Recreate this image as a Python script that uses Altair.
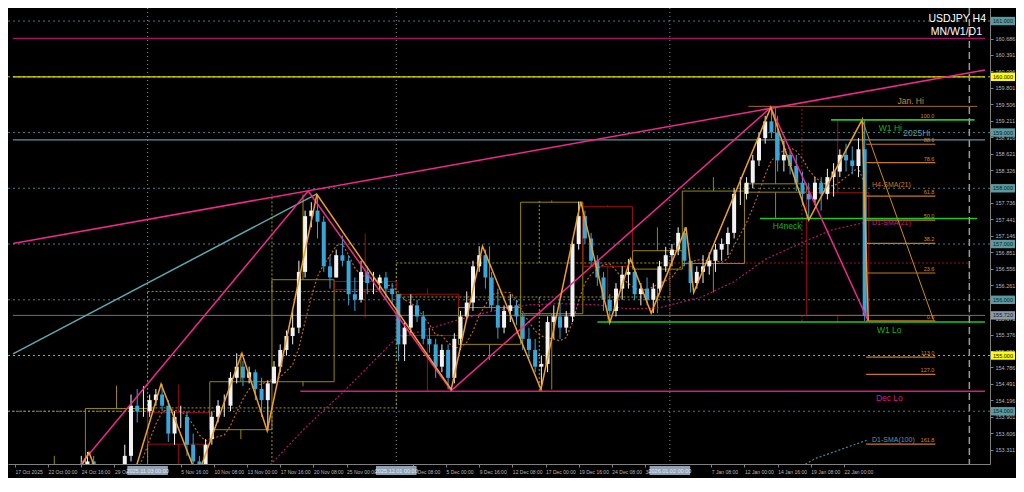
import json
import altair as alt
import pandas as pd

# ------------------------------------------------------------------ values
symbol_text = "USDJPY H4"
periods_text = "MN/W1/D1"

# candles: each candle covers 3 H4 bars, first one starts at bar 28 (24 Oct 2025 00:00)
candle_first_bar = 28
bars_per_candle = 3
c_open = [152.6, 152.8, 152.9, 153.1, 152.7, 152.2, 152.1, 152.3, 152.7, 153.2,
          154.1, 154.0, 154.0, 154.2, 154.3, 154.1, 153.6, 153.9, 153.9, 153.4,
          153.1, 153.0, 153.5, 153.9, 154.1, 154.1, 154.6, 154.8, 154.6, 154.7,
          154.4, 154.2, 154.5, 154.8, 155.1, 155.35, 155.5, 156.5, 157.5, 157.6,
          157.4, 156.6, 156.4, 156.8, 156.7, 156.1, 156.0, 156.5, 156.3, 156.3,
          156.4, 156.2, 156.1, 155.2, 155.5, 155.9, 155.7, 155.3, 155.2, 154.8,
          155.1, 154.6, 155.3, 155.7, 155.95, 156.6, 156.8, 156.4, 155.9, 155.5,
          155.8, 155.9, 155.7, 155.3, 155.1, 154.8, 154.85, 155.6, 155.7, 155.5,
          155.7, 157.0, 157.5, 157.1, 156.7, 156.4, 156.0, 155.8, 156.2, 156.45,
          156.5, 156.1, 156.2, 156.0, 156.2, 156.6, 156.8, 156.9, 157.2, 156.7,
          156.3, 156.5, 156.6, 156.7, 156.9, 157.0, 157.2, 157.9, 157.9, 158.1,
          158.5, 158.9, 159.2, 159.0, 158.5, 158.6, 158.4, 158.1, 157.9, 157.8,
          158.1, 157.9, 158.2, 158.3, 158.6, 158.5, 158.4, 158.7]
c_high = [152.9, 153.2, 153.27, 153.2, 152.8, 152.4, 152.5, 152.8, 153.4, 154.3,
          154.4, 154.45, 154.3, 154.4, 154.49, 154.2, 154.0, 154.1, 154.0, 153.6,
          153.2, 153.5, 154.0, 154.2, 154.3, 154.7, 155.04, 154.9, 154.8, 154.75,
          154.6, 154.55, 154.9, 155.2, 155.45, 155.8, 156.7, 157.6, 157.75, 157.89,
          157.5, 156.8, 156.9, 157.15, 156.8, 156.4, 156.7, 156.6, 156.5, 156.45,
          156.5, 156.3, 156.1, 155.6, 156.1, 156.0, 155.8, 155.5, 155.3, 155.2,
          155.2, 155.4, 155.8, 156.15, 156.7, 156.96, 156.9, 156.5, 156.2, 155.9,
          156.1, 156.0, 155.75, 155.5, 155.3, 155.0, 155.7, 155.9, 155.95, 155.8,
          157.1, 157.76, 157.6, 157.2, 156.8, 156.5, 156.1, 156.3, 156.6, 156.73,
          156.55, 156.3, 156.4, 156.3, 156.7, 156.95, 157.0, 157.3, 157.3, 156.7,
          156.6, 156.8, 156.85, 157.0, 157.1, 157.3, 158.0, 158.2, 158.2, 158.6,
          159.0, 159.3, 159.45, 159.3, 158.85, 158.7, 158.6, 158.3, 158.1, 158.2,
          158.2, 158.35, 158.45, 158.7, 158.8, 158.75, 158.9, 159.23]
c_low = [152.5, 152.7, 152.85, 152.6, 152.0, 151.9, 151.95, 152.1, 152.6, 153.1,
         153.8, 153.9, 153.9, 154.1, 154.0, 153.45, 153.4, 153.7, 153.2, 153.0,
         152.82, 152.9, 153.4, 153.8, 153.9, 154.0, 154.5, 154.45, 154.5, 154.2,
         153.9, 153.65, 154.5, 154.7, 155.0, 155.2, 155.4, 156.4, 157.3, 157.1,
         156.5, 156.2, 156.4, 156.6, 155.9, 155.8, 155.95, 156.1, 156.1, 156.15,
         156.0, 155.9, 154.9, 154.9, 155.4, 155.6, 155.2, 155.05, 154.6, 154.7,
         154.39, 154.5, 155.1, 155.65, 155.8, 156.5, 156.2, 155.8, 155.3, 155.4,
         155.6, 155.55, 155.1, 154.95, 154.7, 154.39, 154.7, 155.3, 155.3, 155.4,
         155.6, 156.9, 157.0, 156.6, 156.25, 155.8, 155.59, 155.7, 156.0, 156.2,
         156.0, 155.9, 155.9, 155.76, 156.1, 156.5, 156.6, 156.8, 156.6, 156.13,
         156.2, 156.3, 156.45, 156.5, 156.7, 156.8, 157.1, 157.7, 157.8, 158.0,
         158.4, 158.8, 158.9, 158.3, 158.3, 158.25, 157.95, 157.7, 157.43, 157.7,
         157.6, 157.8, 157.85, 158.2, 158.3, 158.25, 158.2, 155.62]
c_close = [152.8, 152.9, 153.1, 152.7, 152.2, 152.1, 152.3, 152.6, 153.2, 154.1,
           154.0, 154.0, 154.2, 154.3, 154.1, 153.6, 153.9, 153.9, 153.4, 153.1,
           153.0, 153.4, 153.9, 154.1, 154.1, 154.6, 154.8, 154.6, 154.7, 154.4,
           154.2, 154.5, 154.8, 155.1, 155.35, 155.5, 156.5, 157.5, 157.6, 157.4,
           156.6, 156.4, 156.8, 156.7, 156.1, 156.0, 156.5, 156.3, 156.3, 156.4,
           156.2, 156.1, 155.2, 155.5, 155.9, 155.7, 155.3, 155.2, 154.8, 155.1,
           154.6, 155.3, 155.7, 155.95, 156.6, 156.8, 156.4, 155.9, 155.5, 155.8,
           155.9, 155.7, 155.3, 155.1, 154.8, 154.85, 155.6, 155.7, 155.5, 155.7,
           157.0, 157.5, 157.1, 156.7, 156.4, 156.0, 155.8, 156.2, 156.45, 156.5,
           156.1, 156.2, 156.0, 156.2, 156.6, 156.8, 156.9, 157.2, 156.7, 156.3,
           156.5, 156.6, 156.7, 156.9, 157.0, 157.2, 157.9, 157.9, 158.1, 158.5,
           158.9, 159.2, 159.0, 158.5, 158.6, 158.4, 158.1, 157.9, 157.8, 158.1,
           157.9, 158.2, 158.3, 158.6, 158.5, 158.4, 158.7, 155.72]

# time axis (H4 bar index -> label); labels hidden under the month boxes are left out
time_tick_bars = [0, 16, 32, 48, 80, 96, 112, 128, 144, 160, 192,
                  208, 224, 240, 256, 272, 288, 304, 336, 352, 368, 384, 400]
time_tick_labels = ["17 Oct 2025", "22 Oct 00:00", "24 Oct 16:00", "29 Oct 08:00",
                    "5 Nov 16:00", "10 Nov 08:00", "13 Nov 00:00",
                    "17 Nov 16:00", "20 Nov 08:00", "25 Nov 00:00",
                    "2 Dec 08:00", "5 Dec 00:00", "9 Dec 16:00", "12 Dec 08:00",
                    "17 Dec 00:00", "19 Dec 16:00", "24 Dec 08:00", "30 Dec 00:00",
                    "7 Jan 08:00", "12 Jan 00:00", "14 Jan 16:00",
                    "19 Jan 08:00", "22 Jan 00:00"]
month_start_bars = [64, 184, 316]
month_start_labels = ["2025.11.03 00:00", "2025.12.01 00:00", "2026.01.02 00:00"]
shift_line_bar = 460.5

# price axis (labels hidden under the round-number boxes are left out)
price_ticks = [160.686, 160.391, 160.096, 159.801, 159.506, 159.211,
               158.916, 158.621, 158.326, 157.736, 157.441, 157.146,
               156.851, 156.556, 156.261, 155.671, 155.376, 155.081,
               154.786, 154.491, 154.196, 153.901, 153.606, 153.311]
round_levels = [161.0, 160.0, 159.0, 158.0, 157.0, 156.0, 155.0, 154.0]
current_price = 155.72

# weekly candles (boxes)
wk_start = [4, 34, 64, 94, 124, 154, 184, 214, 244, 274, 298, 322, 352, 382]
wk_end = [34, 64, 94, 124, 154, 184, 214, 244, 274, 298, 322, 352, 382, 412]
wk_open = [150.6, 152.9, 153.98, 153.67, 154.53, 156.33, 156.1, 155.2, 155.75,
           157.67, 156.55, 156.65, 157.93, 157.92]
wk_close = [152.9, 154.05, 153.41, 154.53, 156.36, 156.18, 155.36, 155.86, 157.75,
            156.6, 156.88, 157.95, 158.08, 155.72]
wk_high = [153.2, 154.46, 154.48, 155.04, 157.89, 157.19, 156.2, 156.96, 157.78,
           157.7, 157.3, 158.2, 159.45, 159.23]
wk_low = [150.5, 151.9, 152.8, 153.5, 154.45, 155.67, 154.35, 154.92, 154.39,
          155.59, 155.76, 156.13, 157.47, 155.6]

# monthly candles (dotted boxes)
mo_start = [-40, 64, 184, 316]
mo_end = [64, 184, 316, 460.5]
mo_wick_bar = [-10, 124, 253, 379.7]
mo_open = [147.9, 154.06, 156.05, 156.66]
mo_close = [154.0, 156.15, 156.66, 155.72]
mo_high = [154.45, 157.89, 157.78, 159.45]
mo_low = [146.6, 152.8, 154.35, 155.6]

# named horizontal levels
level_names = ["MN line", "160 line", "2025Hi", "Jan. Hi", "W1 Hi", "H4neck",
               "Current", "W1 Lo", "Dec Lo"]
level_prices = [160.69, 160.0, 158.87, 159.47, 159.23, 157.46, 155.72, 155.60, 154.36]
level_from = [-1, -1, -1, 353.9, 393.8, 359.5, -1, 281, 137.7]
level_to = [468.05, 468.05, 468.05, 464.3, 462.9, 464.3, 468.05, 468.05, 468.05]

# zigzags
orange_zz_bar = [28, 35.7, 50, 70.5, 88, 109.5, 121.7, 145.7, 210.5, 225.6, 253.8,
                 273, 287, 297, 307, 323.8, 327.5, 364.7, 383, 408.8, 411.7]
orange_zz_price = [152.75, 153.26, 151.95, 154.49, 152.82, 155.04, 153.65, 157.89,
                   154.39, 156.96, 154.39, 157.76, 155.59, 156.73, 155.76, 157.30,
                   156.13, 159.45, 157.43, 159.23, 155.62]
pink_zz_bar = [25, 141.5, 210.5, 364.7, 411.7]
pink_zz_price = [152.75, 157.95, 154.37, 159.45, 155.62]

# trend lines: (bar0, price0, bar1, price1)
pink_trend = [-0.94, 157.01, 468.05, 160.12]
teal_trend = [-0.94, 155.03, 145.7, 157.90]
fib_ray = [408.8, 159.23, 443.2, 155.64]

# fibonacci levels
fib_labels = ["100.0", "88.6", "78.6", "61.8", "50.0", "38.2", "23.6", "0.0",
              "113.0", "127.0", "161.8"]
fib_prices = [159.23, 158.79, 158.46, 157.86, 157.43, 157.01, 156.48, 155.62,
              154.97, 154.66, 153.41]
fib_from, fib_to = 410.7, 444.1

# moving averages
d1sma21_bar = [115, 122.7, 140, 158.8, 183.7, 213.8, 229.3, 248, 263.6, 281, 295,
               309, 331.3, 346.7, 362.3, 378.3, 393.8, 409.3]
d1sma21_val = [152.85, 153.02, 153.70, 154.36, 155.30, 155.64, 155.79, 155.91, 155.93,
               155.91, 155.84, 155.84, 156.05, 156.32, 156.73, 157.00, 157.25, 157.38]
d1sma100_bar = [378, 386, 411]
d1sma100_val = [152.98, 153.15, 153.48]

# text annotations
note_text = ["Jan. Hi", "W1 Hi", "2025Hi", "H4-SMA(21)", "H4neck", "D1-SMA(21)",
             "W1 Lo", "Dec Lo", "D1-SMA(100)"]
note_bar = [425.8, 416.8, 428.6, 413.5, 365.6, 413.5, 415.9, 415.4, 413.5]
note_price = [159.557, 159.077, 158.992, 158.05, 157.33, 157.37, 155.45, 154.24, 153.48]

# ------------------------------------------------------------------ style
W, H = 982, 456
X_MIN, X_MAX = -0.94, 468.05
Y_MIN, Y_MAX = 153.054, 161.234
PX_PER_BAR = W / (X_MAX - X_MIN)
PX_PER_PRICE = H / (Y_MAX - Y_MIN)
FONT = "Liberation Sans"

BULL, BEAR = "#f2f2f2", "#38a6d8"
PINK, ORANGE, TEAL, GREEN = "#f0288c", "#f0a028", "#5fa8b2", "#1ec81e"
FIB = "#c47a1c"
level_style = {
    "MN line": ("#a8106c", 1.2), "160 line": ("#e0e000", 1.2), "2025Hi": ("#5796a0", 1.2),
    "Jan. Hi": ("#a5682c", 1.0), "W1 Hi": (GREEN, 1.5), "H4neck": (GREEN, 1.5),
    "Current": ("#66737f", 1.0), "W1 Lo": (GREEN, 1.5), "Dec Lo": ("#d61c7c", 1.5),
}
note_style = {
    "Jan. Hi": ("#c8883a", 8.5), "W1 Hi": ("#18b418", 8.5), "2025Hi": ("#5e9aa8", 8.5),
    "H4-SMA(21)": ("#c8782a", 7), "H4neck": ("#18b418", 8.5),
    "D1-SMA(21)": ("#c8207c", 7), "W1 Lo": ("#18b418", 8.5),
    "Dec Lo": ("#d81c7c", 8.5), "D1-SMA(100)": ("#5a98a8", 7),
}

xs = alt.Scale(domain=[X_MIN, X_MAX], nice=False, zero=False)
ys = alt.Scale(domain=[Y_MIN, Y_MAX], nice=False, zero=False)
x_axis = alt.Axis(
    values=time_tick_bars,
    labelExpr=f"{json.dumps(time_tick_labels)}[indexof({json.dumps(time_tick_bars)}, datum.value)]",
    orient="bottom", grid=False, labelAlign="left", labelBaseline="top",
    labelPadding=2, labelFont=FONT, labelFontSize=5, labelColor="#b8b8b8",
    labelOverlap=False, labelFlush=False, tickSize=3, tickColor="#808080",
    domainColor="#808080", title=None)
y_axis = alt.Axis(
    values=price_ticks, format=".3f", orient="right", grid=False,
    labelPadding=2, labelFont=FONT, labelFontSize=5.5, labelColor="#b8b8b8",
    labelOverlap=False, labelFlush=False, tickSize=3, tickColor="#808080",
    domainColor="#808080", title=None)


def X(f):
    return alt.X(f"{f}:Q", scale=xs, axis=x_axis, title=None)


def Y(f):
    return alt.Y(f"{f}:Q", scale=ys, axis=y_axis, title=None)


ident = lambda f: alt.Color(f"{f}:N", scale=None)

layers = []

# round-number dotted lines
rdf = pd.DataFrame({"price": round_levels})
rdf["color"] = ["#b8b800" if abs(p % 5) < 1e-6 else "#3c8088" for p in round_levels]
layers.append(alt.Chart(rdf).mark_rule(strokeDash=[2, 3], strokeWidth=1, clip=True)
              .encode(y=Y("price"), color=ident("color")))

# month separators
layers.append(alt.Chart(pd.DataFrame({"bar": month_start_bars}))
              .mark_rule(strokeDash=[1, 3], strokeWidth=1, color="#8c8c8c", clip=True)
              .encode(x=X("bar")))


def box_frames(start, end, wick, o, c, h, l, up_col, dn_col):
    boxes, wicks = [], []
    for s, e, w, oo, cc, hh, ll in zip(start, end, wick, o, c, h, l):
        col = up_col if cc >= oo else dn_col
        top, bot = max(oo, cc), min(oo, cc)
        boxes.append({"x0": s, "x1": e, "y0": bot, "y1": top, "color": col})
        wicks.append({"bar": w, "y0": top, "y1": hh, "color": col})
        wicks.append({"bar": w, "y0": bot, "y1": ll, "color": col})
    return pd.DataFrame(boxes), pd.DataFrame(wicks)


# monthly dotted boxes
mb, mw = box_frames(mo_start, mo_end, mo_wick_bar, mo_open, mo_close, mo_high, mo_low,
                    "#a89c00", "#a41818")
layers.append(alt.Chart(mb).mark_rect(fillOpacity=0, strokeDash=[2, 2], strokeWidth=1, clip=True)
              .encode(x=X("x0"), x2="x1", y=Y("y0"), y2="y1", stroke=alt.Stroke("color:N", scale=None)))
layers.append(alt.Chart(mw).mark_rule(strokeDash=[2, 2], strokeWidth=1, clip=True)
              .encode(x=X("bar"), y=Y("y0"), y2="y1", color=ident("color")))

# weekly boxes
wk_mid = [(s + e) / 2 for s, e in zip(wk_start, wk_end)]
wb, ww = box_frames(wk_start, wk_end, wk_mid, wk_open, wk_close, wk_high, wk_low,
                    "#978700", "#9c0e0e")
layers.append(alt.Chart(wb).mark_rect(fillOpacity=0, strokeWidth=1, clip=True)
              .encode(x=X("x0"), x2="x1", y=Y("y0"), y2="y1", stroke=alt.Stroke("color:N", scale=None)))
layers.append(alt.Chart(ww).mark_rule(strokeWidth=1, clip=True)
              .encode(x=X("bar"), y=Y("y0"), y2="y1", color=ident("color")))

# named levels
ldf = pd.DataFrame({"name": level_names, "price": level_prices, "x0": level_from, "x1": level_to})
ldf["color"] = [level_style[n][0] for n in level_names]
ldf["w"] = [level_style[n][1] for n in level_names]
layers.append(alt.Chart(ldf).mark_rule(clip=True)
              .encode(x=X("x0"), x2="x1", y=Y("price"), color=ident("color"),
                      strokeWidth=alt.StrokeWidth("w:Q", scale=None)))

# candles
cdf = pd.DataFrame({
    "bar": [candle_first_bar + bars_per_candle * i + 1 for i in range(len(c_open))],
    "open": c_open, "high": c_high, "low": c_low, "close": c_close})
cdf["dir"] = ["up" if c >= o else "down" for o, c in zip(c_open, c_close)]
ccol = alt.Color("dir:N", scale=alt.Scale(domain=["up", "down"], range=[BULL, BEAR]), legend=None)

# moving averages (dotted)
layers.append(alt.Chart(pd.DataFrame({"bar": d1sma21_bar, "price": d1sma21_val}))
              .mark_line(strokeDash=[2, 2], strokeWidth=1.2, color="#b0156a", clip=True)
              .encode(x=X("bar"), y=Y("price")))
layers.append(alt.Chart(pd.DataFrame({"bar": d1sma100_bar, "price": d1sma100_val}))
              .mark_line(strokeDash=[2, 2], strokeWidth=1.2, color="#3f8a96", clip=True)
              .encode(x=X("bar"), y=Y("price")))
layers.append(alt.Chart(cdf)
              .transform_window(sma="mean(close)", frame=[-6, 0], sort=[alt.SortField("bar")])
              .mark_line(strokeDash=[2, 2], strokeWidth=1.2, color="#b8641e", clip=True)
              .encode(x=X("bar"), y=Y("sma")))

layers.append(alt.Chart(cdf).mark_rule(strokeWidth=1, clip=True)
              .encode(x=X("bar"), y=Y("low"), y2="high", color=ccol))
layers.append(alt.Chart(cdf).mark_bar(size=4, clip=True)
              .encode(x=X("bar"), y=Y("open"), y2="close", color=ccol))

# trend lines
tdf = pd.DataFrame([pink_trend, teal_trend, fib_ray], columns=["b0", "p0", "b1", "p1"])
tdf["color"] = [PINK, TEAL, "#d08a20"]
tdf["w"] = [1.5, 1.5, 1.0]
layers.append(alt.Chart(tdf).mark_rule(clip=True)
              .encode(x=X("b0"), x2="b1", y=Y("p0"), y2="p1", color=ident("color"),
                      strokeWidth=alt.StrokeWidth("w:Q", scale=None)))

# zigzags
pz = pd.DataFrame({"bar": pink_zz_bar, "price": pink_zz_price, "i": range(len(pink_zz_bar))})
layers.append(alt.Chart(pz).mark_line(color=PINK, strokeWidth=1.5, clip=True)
              .encode(x=X("bar"), y=Y("price"), order="i:Q"))
oz = pd.DataFrame({"bar": orange_zz_bar, "price": orange_zz_price, "i": range(len(orange_zz_bar))})
layers.append(alt.Chart(oz).mark_line(color=ORANGE, strokeWidth=1.5, clip=True)
              .encode(x=X("bar"), y=Y("price"), order="i:Q"))

# fib levels
fdf = pd.DataFrame({"label": fib_labels, "price": fib_prices, "x0": fib_from, "x1": fib_to})
layers.append(alt.Chart(fdf).mark_rule(color=FIB, strokeWidth=1.2, clip=True)
              .encode(x=X("x0"), x2="x1", y=Y("price")))
layers.append(alt.Chart(fdf).mark_text(align="right", baseline="bottom", dy=-1, dx=-1,
                                       font=FONT, fontSize=5.5, color="#d28a24")
              .encode(x=X("x1"), y=Y("price"), text="label:N"))

# re-draw W1 Hi over the 100% fib line
layers.append(alt.Chart(ldf[ldf["name"] == "W1 Hi"]).mark_rule(clip=True, strokeWidth=1.5, color=GREEN)
              .encode(x=X("x0"), x2="x1", y=Y("price")))

# level annotations
ndf = pd.DataFrame({"label": note_text, "bar": note_bar, "price": note_price})
ndf["color"] = [note_style[n][0] for n in note_text]
ndf["size"] = [note_style[n][1] for n in note_text]
layers.append(alt.Chart(ndf).mark_text(align="left", baseline="middle", font=FONT)
              .encode(x=X("bar"), y=Y("price"), text="label:N", color=ident("color"),
                      size=alt.Size("size:Q", scale=None)))

# chart-shift dashed line
layers.append(alt.Chart(pd.DataFrame({"bar": [shift_line_bar]}))
              .mark_rule(strokeDash=[7, 4], strokeWidth=1.5, color="#9a9a9a")
              .encode(x=X("bar")))

# price-axis boxes
half = 4.2 / PX_PER_PRICE
bx = pd.DataFrame({"price": round_levels + [current_price]})
bx["label"] = [f"{p:.3f}" for p in bx["price"]]
bx["y0"] = bx["price"] - half
bx["y1"] = bx["price"] + half
bx["fill"] = (["#ffff00" if abs(p % 5) < 1e-6 else "#5a9aa0" for p in round_levels] + ["#8c9aa8"])
bx["tcol"] = (["#000000" if abs(p % 5) < 1e-6 else "#0c2024" for p in round_levels] + ["#101820"])
layers.append(alt.Chart(bx).mark_rect()
              .encode(x=alt.value(W + 1), x2=alt.value(W + 25), y=Y("y0"), y2="y1",
                      fill=alt.Fill("fill:N", scale=None)))
layers.append(alt.Chart(bx).mark_text(align="center", baseline="middle", font=FONT, fontSize=5.5)
              .encode(x=alt.value(W + 13), y=Y("price"), text="label:N", color=ident("tcol")))

# time-axis month boxes
hb = 20.5 / PX_PER_BAR
mdf = pd.DataFrame({"bar": month_start_bars, "label": month_start_labels})
mdf["x0"] = mdf["bar"] - hb
mdf["x1"] = mdf["bar"] + hb
layers.append(alt.Chart(mdf).mark_rect(color="#8fa1b3")
              .encode(x=X("x0"), x2="x1", y=alt.value(H + 2), y2=alt.value(H + 11)))
layers.append(alt.Chart(mdf).mark_text(align="center", baseline="middle", font=FONT,
                                       fontSize=5.5, color="#e4ebf2")
              .encode(x=X("bar"), y=alt.value(H + 6.5), text="label:N"))

# symbol / periods
layers.append(alt.Chart(pd.DataFrame({"t": [symbol_text]}))
              .mark_text(align="right", baseline="alphabetic", font=FONT, fontSize=10.5, color="#ffffff")
              .encode(x=alt.value(W - 4), y=alt.value(13.5), text="t:N"))
layers.append(alt.Chart(pd.DataFrame({"t": [periods_text]}))
              .mark_text(align="right", baseline="alphabetic", font=FONT, fontSize=10.5, color="#ffffff")
              .encode(x=alt.value(W - 8), y=alt.value(27), text="t:N"))

chart = (alt.layer(*layers)
         .properties(width=W, height=H, background="#000000",
                     padding={"left": 0, "top": 0, "right": 26, "bottom": 14},
                     autosize=alt.AutoSizeParams(type="none"))
         .configure_view(stroke=None, fill="#000000"))

chart.save("out.html", embed_options={"renderer": "svg", "actions": False})
